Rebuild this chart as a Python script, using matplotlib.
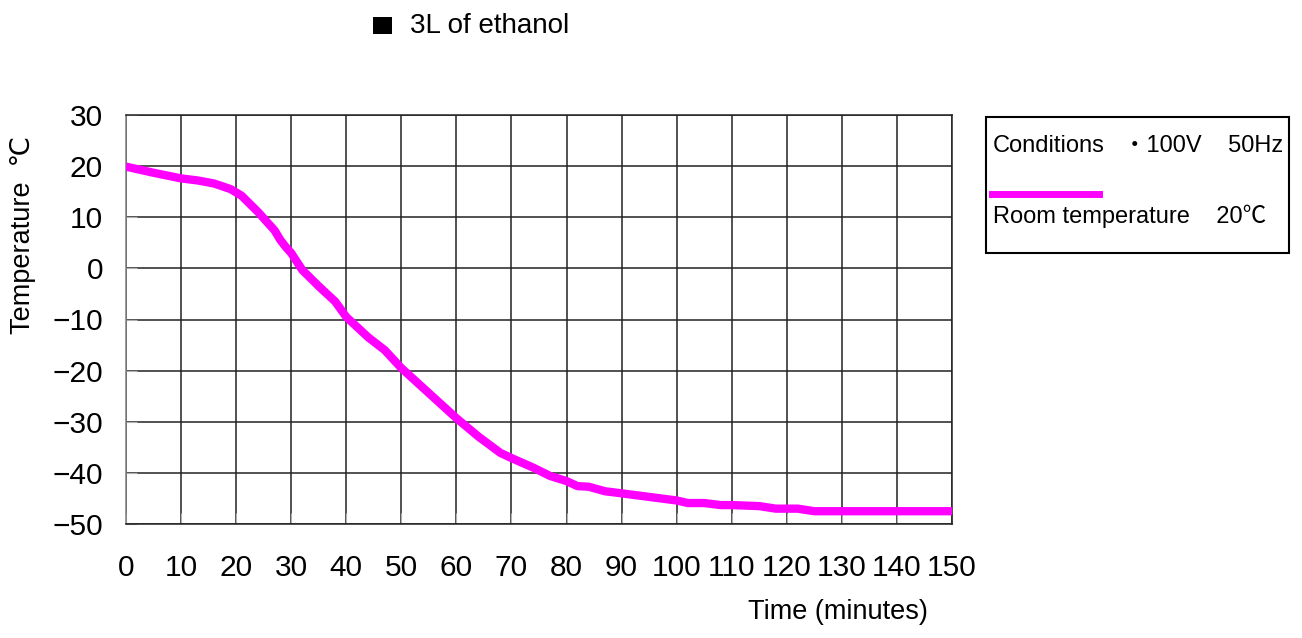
import matplotlib
matplotlib.use("Agg")
import matplotlib.pyplot as plt
from matplotlib.patches import Rectangle
from matplotlib.lines import Line2D

plt.rcParams['font.family'] = ['Liberation Sans', 'DejaVu Sans', 'Noto Sans CJK JP']

# cooling curve, 3L of ethanol
time_min = [0, 5, 10, 13, 16, 19, 21, 24, 27, 28, 29, 30, 32, 35, 38, 40, 42, 44,
            47, 50, 55, 60, 64, 68, 70, 74, 77, 80, 82, 84, 87, 90, 95, 100, 102,
            105, 108, 110, 115, 118, 122, 125, 130, 140, 150]
temp_c = [19.9, 18.7, 17.6, 17.2, 16.6, 15.5, 14.2, 11.0, 7.4, 5.6, 4.2, 3.0, -0.3,
          -3.5, -6.5, -9.5, -11.5, -13.5, -16.0, -19.5, -24.4, -29.3, -32.9, -36.1,
          -37.1, -39.0, -40.6, -41.6, -42.6, -42.7, -43.6, -44.0, -44.7, -45.4,
          -45.9, -45.9, -46.3, -46.3, -46.5, -47.0, -47.0, -47.5, -47.5, -47.5, -47.5]

x_ticks = list(range(0, 151, 10))
y_ticks = list(range(-50, 31, 10))

W, H = 1302, 638
fig = plt.figure(figsize=(W / 100, H / 100), dpi=100)
ax = fig.add_axes([126 / W, 1 - 524 / H, (952 - 126) / W, (524 - 115) / H])

ax.plot(time_min, temp_c, color='#ff00ff', lw=6, solid_capstyle='butt', zorder=3)

ax.set_xlim(0, 150)
ax.set_ylim(-50, 30)
ax.set_xticks(x_ticks)
ax.set_yticks(y_ticks)
ax.grid(True, color='#222222', lw=1.1)
ax.tick_params(direction='in', length=8, color='#b0b0b0', labelsize=21.5)
ax.tick_params(axis='y', pad=16.5)
ax.tick_params(axis='x', pad=21.5)
for name, sp in ax.spines.items():
    sp.set_color('#222222')
    sp.set_linewidth(1.1)
ax.spines['left'].set_color('#808080')

# axis titles
fig.text(23 / W, 1 - 235 / H, 'Temperature  ℃', rotation=90, fontsize=19.5,
         ha='center', va='center')
fig.text(838 / W, 1 - 612 / H, 'Time (minutes)', fontsize=19.5, ha='center', va='center')

# heading
fig.add_artist(Rectangle((373 / W, 1 - 34 / H), 19 / W, 17 / H,
                         transform=fig.transFigure, fc='black', ec='none'))
fig.text(410 / W, 1 - 26 / H, '3L of ethanol', fontsize=20, ha='left', va='center')

# conditions box
fig.add_artist(Rectangle((986 / W, 1 - 253 / H), (1289 - 986) / W, (253 - 117) / H,
                         transform=fig.transFigure, fill=False, ec='black', lw=1.5))
fig.text(993 / W, 1 - 146 / H, 'Conditions', fontsize=17, ha='left', va='center')
fig.text(1283 / W, 1 - 146 / H, '・100V    50Hz', fontsize=17, ha='right', va='center',
         family=['Liberation Sans', 'Noto Sans CJK JP'])
fig.add_artist(Line2D([992 / W, 1099 / W], [1 - 194 / H, 1 - 194 / H],
                      transform=fig.transFigure, color='#ff00ff', lw=5))
fig.text(993 / W, 1 - 216 / H, 'Room temperature    20℃', fontsize=17, ha='left',
         va='center', family=['Liberation Sans', 'Noto Sans CJK JP'])

fig.savefig('out.png', dpi=100)
